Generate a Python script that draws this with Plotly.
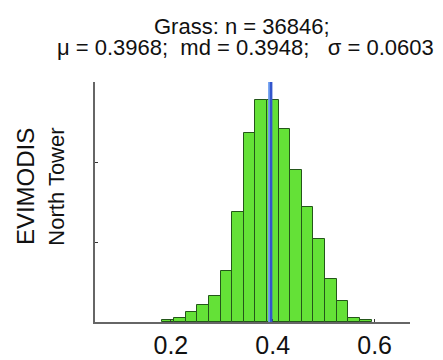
import plotly.graph_objects as go

# ---- data ----
bin_centers = [0.1949, 0.2177, 0.2405, 0.2633, 0.2861, 0.3089, 0.3317, 0.3545, 0.3773,
               0.4001, 0.4229, 0.4457, 0.4685, 0.4913, 0.5141, 0.5369, 0.5597, 0.5825]
counts = [55, 110, 243, 418, 660, 1268, 2750, 4725, 5560,
          5540, 4825, 3800, 2875, 2085, 1085, 525, 110, 43]
bin_width = 0.0228
n_total = 36846
mean_val = 0.3968
median_val = 0.3948
std_val = 0.0603
x_ticks = [0.2, 0.4, 0.6]
x_tick_labels = ["0.2", "0.4", "0.6"]
y_ticks = [0, 2000, 4000, 6000]
category = "Grass"
y_label_lines = ["EVIMODIS", "North Tower"]

FONT = "Liberation Sans, Arial, Helvetica, sans-serif"

fig = go.Figure()
fig.add_trace(go.Bar(
    x=bin_centers, y=counts, width=[bin_width] * len(counts),
    marker=dict(color="#64e137", line=dict(color="#24561a", width=1)),
    showlegend=False, hoverinfo="x+y",
))

# median and mean lines
fig.add_shape(type="line", x0=median_val, x1=median_val, y0=0, y1=1, xref="x", yref="paper",
              line=dict(color="#6f9ff0", width=4), layer="above")
fig.add_shape(type="line", x0=mean_val, x1=mean_val, y0=0, y1=1, xref="x", yref="paper",
              line=dict(color="#3355cc", width=2.5), layer="above")

sp = "\u00a0"
title1 = f"{category}: n = {n_total};"
title2 = f"μ = {mean_val:.4f};{sp}{sp}md = {median_val:.4f};{sp}{sp}{sp}σ = {std_val:.4f}"

fig.add_annotation(text=title1, x=0.468, y=1.233, xref="paper", yref="paper",
                   showarrow=False, xanchor="center", yanchor="middle",
                   font=dict(family=FONT, size=22, color="#111"))
fig.add_annotation(text=title2, x=0.478, y=1.144, xref="paper", yref="paper",
                   showarrow=False, xanchor="center", yanchor="middle",
                   font=dict(family=FONT, size=22, color="#111"))
fig.add_annotation(text=y_label_lines[0], x=-0.222, y=0.5625, xref="paper", yref="paper",
                   showarrow=False, xanchor="center", yanchor="middle", textangle=-90,
                   font=dict(family=FONT, size=24, color="#111"))
fig.add_annotation(text=y_label_lines[1], x=-0.125, y=0.5625, xref="paper", yref="paper",
                   showarrow=False, xanchor="center", yanchor="middle", textangle=-90,
                   font=dict(family=FONT, size=22, color="#111"))

fig.update_layout(
    width=443, height=360,
    margin=dict(l=95, r=33, t=82, b=38),
    paper_bgcolor="white", plot_bgcolor="white",
    bargap=0,
    font=dict(family=FONT, color="#111"),
)
fig.update_xaxes(
    range=[0.051, 0.6695], tickvals=x_ticks, ticktext=x_tick_labels,
    ticks="inside", ticklen=3, tickcolor="#333", tickwidth=1,
    showline=True, linecolor="#666", linewidth=2, showgrid=False, zeroline=False,
    tickfont=dict(family=FONT, size=25, color="#111"), ticklabelstandoff=0,
    automargin=False,
)
fig.update_yaxes(
    range=[0, 6000], tickvals=y_ticks, showticklabels=False,
    ticks="inside", ticklen=3, tickcolor="#333", tickwidth=1,
    showline=True, linecolor="#666", linewidth=2, showgrid=False, zeroline=False,
    automargin=False,
)

fig.write_html("out.html")
